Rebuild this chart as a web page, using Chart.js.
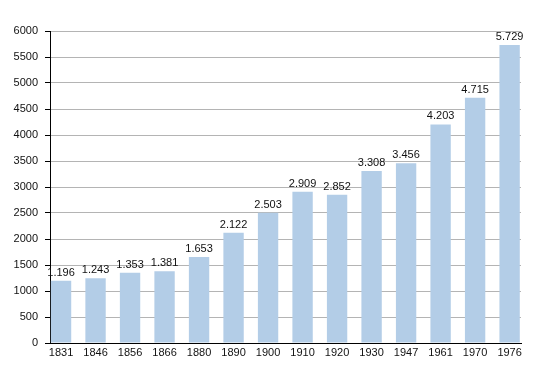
<!DOCTYPE html>
<html>
<head>
<meta charset="utf-8">
<script src="https://cdn.jsdelivr.net/npm/chart.js@4/dist/chart.umd.min.js"></script>
<style>
  html, body { margin: 0; padding: 0; background: #fff; }
  #wrap { width: 550px; height: 373px; }
</style>
</head>
<body>
<div id="wrap"><canvas id="chart" width="550" height="373"></canvas></div>
<script>
// Jahre und Einwohner
const years = ['1831','1846','1856','1866','1880','1890','1900','1910','1920','1930','1947','1961','1970','1976'];
const population = [1196, 1243, 1353, 1381, 1653, 2122, 2503, 2909, 2852, 3308, 3456, 4203, 4715, 5729];
const yMax = 6000;
const yStep = 250;   // minor lines, labels every 500

// 1196 -> "1.196"
function fmt(n){
    return String(n).replace(/\B(?=(\d{3})+(?!\d))/g, '.');
}

// numbers over the bars
const valueLabels = {
    id: 'valueLabels',
    afterDatasetsDraw(chart){
        const ctx = chart.ctx;
        const meta = chart.getDatasetMeta(0);
        ctx.save();
        ctx.font = '11px "Liberation Sans", Arial, sans-serif';
        ctx.fillStyle = '#111';
        ctx.textAlign = 'center';
        ctx.textBaseline = 'alphabetic';
        meta.data.forEach((bar, i) => {
            ctx.fillText(fmt(population[i]), bar.x, bar.y - 5);
        });
        ctx.restore();
    }
};

// bars sit at index positions; the first hugs the y axis, the last the right edge
const points = population.map((v, i) => ({ x: i, y: v }));

const canvas = document.getElementById('chart');
new Chart(canvas, {
    type: 'bar',
    data: {
        datasets: [{
            data: points,
            backgroundColor: '#b3cde7',
            borderWidth: 0,
            categoryPercentage: 1,
            barPercentage: 0.59
        }]
    },
    options: {
        responsive: false,
        animation: false,
        layout: { padding: { top: 31, right: 29, left: 0, bottom: 0 } },
        plugins: {
            legend: { display: false },
            tooltip: { enabled: false }
        },
        scales: {
            x: {
                type: 'linear',
                min: -0.32,
                max: 13.33,
                offset: false,
                grid: { drawOnChartArea: false, drawTicks: false },
                border: { display: true, color: '#000', width: 1 },
                ticks: {
                    stepSize: 1,
                    includeBounds: false,
                    color: '#111',
                    font: { family: '"Liberation Sans", Arial, sans-serif', size: 11 },
                    padding: 3,
                    maxRotation: 0,
                    autoSkip: false,
                    callback: v => (Number.isInteger(v) && years[v] ? years[v] : '')
                },
                afterFit: s => { s.height = 30; }
            },
            y: {
                min: 0,
                max: yMax,
                ticks: {
                    stepSize: yStep,
                    color: '#111',
                    font: { family: '"Liberation Sans", Arial, sans-serif', size: 11 },
                    padding: 7,
                    callback: v => (v % 500 === 0 ? String(v) : '')
                },
                grid: {
                    color: c => (c.tick && c.tick.value % 500 === 0 ? '#b4b4b4' : '#e6e6e6'),
                    tickColor: '#000',
                    tickLength: 5,
                    lineWidth: 1
                },
                border: { display: true, color: '#000', width: 1 },
                afterFit: s => { s.width = 50; }
            }
        }
    },
    plugins: [valueLabels]
});
</script>
</body>
</html>
